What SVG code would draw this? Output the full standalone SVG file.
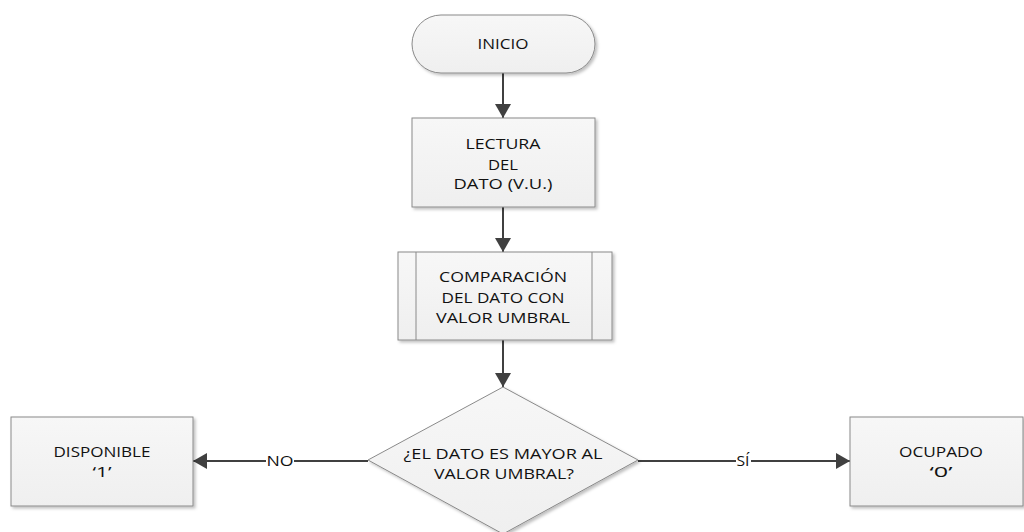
<svg xmlns="http://www.w3.org/2000/svg" width="1024" height="532" viewBox="0 0 1024 532">
<style>
.shape{fill:url(#g);stroke:#8a8a8a;stroke-width:1;filter:url(#sh)}
.inner{stroke:#8a8a8a;stroke-width:1;fill:none}
.t{font-family:"Open Sans","Liberation Sans",sans-serif;font-size:15px;fill:#111;text-anchor:middle}
.c{stroke:#404040;stroke-width:2;fill:none;marker-end:url(#ah)}
.lb{fill:#fff}
</style>
<defs>
<linearGradient id="g" x1="0" y1="0" x2="0" y2="1">
<stop offset="0" stop-color="#f7f7f7"/>
<stop offset="1" stop-color="#efefef"/>
</linearGradient>
<filter id="sh" x="-10%" y="-10%" width="130%" height="130%">
<feDropShadow dx="2" dy="2" stdDeviation="1.5" flood-color="#000" flood-opacity="0.25"/>
</filter>
<marker id="ah" markerUnits="userSpaceOnUse" markerWidth="14" markerHeight="16" refX="14" refY="8" orient="auto">
<path d="M0,0 L14,8 L0,16 Z" fill="#404040"/>
</marker>
</defs>
<rect width="1024" height="532" fill="#fff"/>
<g id="connectors">
<line class="c" x1="503" y1="73" x2="503" y2="118"/>
<line class="c" x1="503" y1="207" x2="503" y2="252"/>
<line class="c" x1="503" y1="340" x2="503" y2="387"/>
<line class="c" x1="368" y1="461" x2="193" y2="461"/>
<line class="c" x1="638" y1="461" x2="850" y2="461"/>
<rect class="lb" x="266" y="452" width="28" height="18"/>
<text class="t" x="280" y="466" textLength="27" lengthAdjust="spacingAndGlyphs">NO</text>
<rect class="lb" x="736" y="452" width="15" height="18"/>
<text class="t" x="743" y="466" textLength="13" lengthAdjust="spacingAndGlyphs">SÍ</text>
</g>
<g id="inicio">
<rect class="shape" x="412" y="15" width="183" height="58" rx="29" ry="29"/>
<text class="t" x="503" y="49" textLength="51" lengthAdjust="spacingAndGlyphs">INICIO</text>
</g>
<g id="lectura">
<rect class="shape" x="412" y="118" width="183" height="89"/>
<text class="t" x="503" y="149" textLength="75" lengthAdjust="spacingAndGlyphs">LECTURA</text>
<text class="t" x="503" y="170" textLength="30" lengthAdjust="spacingAndGlyphs">DEL</text>
<text class="t" x="503" y="189" textLength="99" lengthAdjust="spacingAndGlyphs">DATO (V.U.)</text>
</g>
<g id="comparacion">
<rect class="shape" x="398" y="252" width="214" height="88"/>
<line class="inner" x1="416" y1="252" x2="416" y2="340"/>
<line class="inner" x1="592" y1="252" x2="592" y2="340"/>
<text class="t" x="503" y="282" textLength="128" lengthAdjust="spacingAndGlyphs">COMPARACIÓN</text>
<text class="t" x="503" y="302.5" textLength="123" lengthAdjust="spacingAndGlyphs">DEL DATO CON</text>
<text class="t" x="503" y="322.5" textLength="134" lengthAdjust="spacingAndGlyphs">VALOR UMBRAL</text>
</g>
<g id="decision">
<polygon class="shape" points="503,387 638,460 503,534 368,460"/>
<text class="t" x="503" y="459" textLength="199" lengthAdjust="spacingAndGlyphs">¿EL DATO ES MAYOR AL</text>
<text class="t" x="504" y="479" textLength="140" lengthAdjust="spacingAndGlyphs">VALOR UMBRAL?</text>
</g>
<g id="disponible">
<rect class="shape" x="11" y="417" width="182" height="89"/>
<text class="t" x="102" y="457" textLength="97" lengthAdjust="spacingAndGlyphs">DISPONIBLE</text>
<text class="t" x="102" y="477" textLength="19" lengthAdjust="spacingAndGlyphs">‘1’</text>
</g>
<g id="ocupado">
<rect class="shape" x="850" y="417" width="173" height="89"/>
<text class="t" x="941" y="457" textLength="84" lengthAdjust="spacingAndGlyphs">OCUPADO</text>
<text class="t" x="941" y="477" textLength="23" lengthAdjust="spacingAndGlyphs">‘0’</text>
</g>
</svg>
